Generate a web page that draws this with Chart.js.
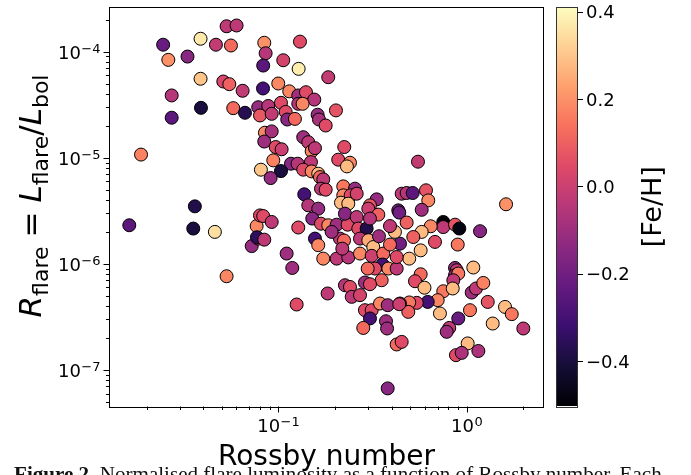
<!DOCTYPE html>
<html>
<head>
<meta charset="utf-8">
<script src="https://cdn.jsdelivr.net/npm/chart.js@4"></script>
<style>
  html, body { margin: 0; padding: 0; background: #fff; }
  canvas { display: block; }
</style>
</head>
<body>
<canvas id="c" width="691" height="475"></canvas>
<script>
// Rossby number, normalised flare luminosity and metallicity per star
const rossby = [
  0.0532, 0.0601, 0.0245, 0.0387, 0.0467, 0.0561, 0.0261, 0.0330, 0.0387, 0.0511,
  0.0550, 0.0647, 0.0272, 0.0389, 0.0577, 0.0666, 0.0783, 0.0272, 0.0187, 0.0809,
  0.0361, 0.0162, 0.0354, 0.0461, 0.0532, 0.0723, 0.0783, 0.0768, 0.0800, 0.0771,
  0.0843, 0.0857, 0.0832, 0.1063, 0.1304, 0.1283, 0.0830, 0.100, 0.1144, 0.1277,
  0.1403, 0.1553, 0.1277, 0.1347, 0.1034, 0.0885, 0.0800, 0.0923, 0.1095, 0.1116,
  0.1226, 0.1618, 0.1644, 0.1785, 0.2024, 0.1842, 0.0850, 0.0923, 0.0843, 0.0969,
  0.1042, 0.1357, 0.1443, 0.1504, 0.1566, 0.224, 0.2081, 0.2402, 0.2315, 0.0941,
  0.1168, 0.1267, 0.1491, 0.1034, 0.0911, 0.1357, 0.1504, 0.1630, 0.1665, 0.1733,
  0.1686, 0.1785, 0.1374, 0.1443, 0.1630, 0.2213, 0.2553, 0.2213, 0.2422, 0.2608,
  0.2152, 0.2353, 0.3328, 0.3067, 0.4518, 0.4335, 0.5514, 0.4802, 0.5169, 0.6081,
  0.6252, 1.617, 0.4387, 0.577, 0.4802, 0.751, 0.751, 0.867, 0.9135, 1.177,
  0.644, 0.577, 0.5208, 0.6786, 0.896, 0.4426, 0.5698, 0.4955, 0.867, 0.885,
  0.867, 0.902, 0.849, 1.084, 0.5698, 0.5316, 0.597, 0.751, 0.843, 0.7015,
  0.621, 0.543, 0.4955, 0.4426, 0.4898, 0.721, 1.063, 1.12, 1.225, 1.293,
  1.041, 0.902, 0.808, 0.783, 1.597, 1.734, 1.374, 1.997, 1.012, 0.877,
  0.941, 1.153, 0.0832, 0.0923, 0.0843, 0.1277, 0.1108, 0.1187, 0.1828, 0.1252,
  0.1515, 0.1686, 0.1842, 0.1566, 0.1630, 0.1733, 0.2042, 0.2353, 0.2042, 0.2335,
  0.2259, 0.2125, 0.2234, 0.2187, 0.2608, 0.3005, 0.3395, 0.2659, 0.2945, 0.3067,
  0.2715, 0.3005, 0.3193, 0.3423, 0.2715, 0.3132, 0.3607, 0.3917, 0.416, 0.3917,
  0.358, 0.326, 0.2983, 0.3837, 0.425, 0.425, 0.3538, 0.2259, 0.2402, 0.2453,
  0.2715, 0.2884, 0.3067, 0.2884, 0.3132, 0.3067, 0.2826, 0.3466, 0.3808, 0.4387,
  0.373, 0.378, 0.425, 0.4518, 0.3808, 0.192
];
const rflare = [
  1.73e-4, 1.76e-4, 1.16e-4, 1.32e-4, 1.16e-4, 1.14e-4, 8.35e-5, 8.97e-5, 5.54e-5, 5.22e-5,
  4.93e-5, 4.27e-5, 3.86e-5, 2.95e-5, 2.93e-5, 2.65e-5, 2.99e-5, 2.38e-5, 1.07e-5, 7.71e-6,
  3.48e-6, 2.31e-6, 2.15e-6, 2.00e-6, 7.64e-7, 1.47e-6, 1.73e-6, 2.27e-6, 2.86e-6, 1.78e-6,
  1.21e-4, 9.64e-5, 7.38e-5, 8.28e-5, 1.24e-4, 6.87e-5, 4.49e-5, 5.00e-5, 4.22e-5, 3.86e-5,
  4.14e-5, 3.53e-5, 3.22e-5, 3.22e-5, 3.29e-5, 3.07e-5, 2.50e-5, 2.59e-5, 2.70e-5, 2.29e-5,
  2.32e-5, 2.54e-5, 2.29e-5, 2.01e-5, 2.79e-5, 5.73e-5, 1.72e-5, 1.77e-5, 1.42e-5, 1.26e-5,
  1.20e-5, 1.56e-5, 1.40e-5, 1.15e-5, 1.23e-5, 1.26e-5, 9.58e-6, 8.97e-6, 8.28e-6, 9.44e-6,
  8.78e-6, 8.78e-6, 9.09e-6, 7.48e-6, 6.43e-6, 7.71e-6, 7.43e-6, 7.07e-6, 6.57e-6, 6.25e-6,
  5.11e-6, 5.00e-6, 4.52e-6, 3.56e-6, 3.31e-6, 5.37e-6, 5.11e-6, 4.42e-6, 4.42e-6, 4.58e-6,
  3.77e-6, 3.69e-6, 4.05e-6, 3.56e-6, 4.58e-6, 3.19e-6, 9.17e-6, 4.65e-6, 4.65e-6, 4.93e-6,
  3.96e-6, 3.64e-6, 3.04e-6, 3.23e-6, 2.45e-6, 2.48e-6, 2.22e-6, 2.34e-6, 2.15e-6, 2.03e-6,
  2.26e-6, 2.00e-6, 1.79e-6, 1.61e-6, 1.52e-6, 1.55e-6, 1.34e-6, 1.12e-6, 9.15e-7, 8.71e-7,
  7.81e-7, 8.11e-7, 7.01e-7, 9.23e-7, 7.98e-7, 6.86e-7, 5.96e-7, 5.52e-7, 5.86e-7, 4.55e-7,
  4.38e-7, 4.29e-7, 4.33e-7, 4.23e-7, 3.53e-7, 3.41e-7, 5.37e-7, 5.86e-7, 6.61e-7, 4.38e-7,
  3.66e-7, 3.06e-7, 2.49e-7, 2.29e-7, 3.93e-7, 3.36e-7, 2.74e-7, 2.46e-7, 1.78e-7, 1.38e-7,
  1.45e-7, 1.51e-7, 2.82e-6, 2.48e-6, 1.69e-6, 2.20e-6, 1.25e-6, 9.15e-7, 5.26e-7, 4.14e-7,
  2.67e-6, 2.39e-6, 2.31e-6, 1.73e-6, 1.50e-6, 1.12e-6, 1.12e-6, 1.15e-6, 2.34e-6, 2.34e-6,
  2.97e-6, 1.73e-6, 1.66e-6, 1.39e-6, 2.76e-6, 3.31e-6, 2.91e-6, 2.15e-6, 2.15e-6, 2.67e-6,
  1.73e-6, 1.67e-6, 1.44e-6, 1.82e-6, 1.25e-6, 1.19e-6, 1.25e-6, 1.52e-6, 2.00e-6, 2.27e-6,
  9.85e-7, 9.03e-7, 9.03e-7, 9.03e-7, 9.03e-7, 1.16e-6, 7.01e-7, 6.29e-7, 6.06e-7, 4.89e-7,
  5.07e-7, 6.67e-7, 6.43e-7, 3.66e-7, 3.66e-7, 3.06e-7, 2.49e-7, 4.23e-7, 4.08e-7, 4.17e-7,
  2.88e-7, 2.46e-7, 1.74e-7, 1.84e-7, 6.71e-8, 2.00e-6
];
const feh = [
  -0.03, -0.03, -0.22, 0.37, -0.02, 0.12, 0.20, -0.15, 0.30, 0.03,
  0.10, -0.02, -0.05, -0.40, 0.12, -0.37, -0.12, -0.25, 0.17, 0.30,
  -0.38, -0.25, -0.40, 0.35, 0.18, -0.12, 0.05, 0.18, 0.05, -0.35,
  0.20, -0.05, -0.25, 0.02, 0.05, 0.38, -0.30, 0.18, 0.18, -0.10,
  0.05, -0.05, -0.05, 0.18, 0.05, -0.05, 0.08, -0.02, 0.05, -0.15,
  0.12, -0.12, -0.08, 0.05, 0.07, -0.02, 0.18, -0.08, -0.10, 0.05,
  0.00, -0.10, -0.03, 0.18, -0.03, 0.05, 0.05, 0.18, 0.28, 0.17,
  -0.15, -0.05, -0.03, -0.40, -0.12, 0.05, 0.18, 0.28, 0.12, -0.03,
  -0.03, 0.05, -0.30, -0.05, -0.12, 0.15, -0.12, 0.18, 0.05, 0.02,
  0.28, 0.28, -0.12, 0.08, -0.03, -0.20, -0.02, -0.05, -0.25, 0.07,
  0.18, 0.20, -0.20, -0.10, 0.10, -0.50, -0.03, 0.07, -0.48, -0.15,
  0.18, 0.28, 0.10, 0.05, 0.15, -0.20, 0.28, 0.28, -0.12, -0.03,
  -0.12, 0.15, -0.03, 0.28, 0.12, 0.05, 0.28, 0.15, 0.28, 0.18,
  -0.30, 0.05, 0.15, -0.03, 0.10, 0.28, -0.10, -0.03, 0.17, 0.07,
  0.15, -0.22, -0.03, -0.10, 0.28, 0.15, 0.28, -0.03, 0.28, 0.05,
  -0.07, -0.07, 0.05, -0.03, -0.03, 0.05, -0.10, -0.10, -0.03, 0.05,
  -0.15, 0.05, 0.18, -0.30, 0.18, 0.18, -0.03, -0.05, -0.10, 0.05,
  -0.15, -0.03, 0.12, -0.03, -0.03, 0.00, 0.10, 0.05, -0.38, -0.05,
  -0.03, 0.25, 0.28, -0.10, 0.18, 0.00, 0.12, 0.12, 0.28, -0.03,
  -0.30, 0.05, 0.12, 0.18, -0.03, 0.05, 0.10, -0.05, 0.05, -0.03,
  0.02, -0.10, 0.05, 0.05, 0.05, -0.30, 0.12, 0.18, -0.10, 0.00,
  -0.10, -0.10, 0.12, 0.05, -0.15, -0.10
];

// axes and colour bar
const xRange = [0.0128, 2.54];
const yRange = [4.58e-8, 2.6e-4];
const xMajor = [0.1, 1];
const xMajorExp = ['\u22121', '0'];
const yMajor = [1e-4, 1e-5, 1e-6, 1e-7];
const yMajorExp = ['\u22124', '\u22125', '\u22126', '\u22127'];
const cbRange = [-0.503, 0.41];
const cbTicks = [0.4, 0.2, 0.0, -0.2, -0.4];
const cbTickLabels = ['0.4', '0.2', '0.0', '\u22120.2', '\u22120.4'];

const MAGMA = ['#000004', '#140e36', '#3b0f70', '#641a80', '#8c2981', '#b73779',
               '#de4968', '#f7705c', '#fe9f6d', '#fecf92', '#fcfdbf'];

function hexRgb(h) {
  return [parseInt(h.slice(1, 3), 16), parseInt(h.slice(3, 5), 16), parseInt(h.slice(5, 7), 16)];
}
function magma(v) {
  let t = (v - cbRange[0]) / (cbRange[1] - cbRange[0]);
  t = Math.max(0, Math.min(1, t));
  const s = t * 10, i = Math.min(9, Math.floor(s)), f = s - i;
  const a = hexRgb(MAGMA[i]), b = hexRgb(MAGMA[i + 1]);
  const c = a.map((ai, k) => Math.round(ai + (b[k] - ai) * f));
  return `rgb(${c[0]},${c[1]},${c[2]})`;
}

const points = rossby.map((r, i) => ({ x: r, y: rflare[i] }));
const colors = feh.map(magma);

const FONT = '"DejaVu Sans", sans-serif';

function drawPow(ctx, exp, x, base, align) {
  ctx.font = '18px ' + FONT;
  const w10 = ctx.measureText('10').width;
  ctx.font = '13px ' + FONT;
  const wSup = ctx.measureText(exp).width;
  const total = w10 + wSup;
  let x0 = align === 'right' ? x - total : x - total / 2;
  ctx.textAlign = 'left';
  ctx.textBaseline = 'alphabetic';
  ctx.font = '18px ' + FONT;
  ctx.fillText('10', x0, base);
  ctx.font = '13px ' + FONT;
  ctx.fillText(exp, x0 + w10 + 0.5, base - 6);
}

function minorTicks(lo, hi) {
  const out = [];
  for (let e = Math.floor(Math.log10(lo)); e <= Math.ceil(Math.log10(hi)); e++) {
    for (let m = 2; m <= 9; m++) {
      const v = m * Math.pow(10, e);
      if (v >= lo && v <= hi) out.push(v);
    }
  }
  return out;
}

const decoPlugin = {
  id: 'deco',
  afterDraw(chart) {
    const { ctx, chartArea: a, scales } = chart;
    const xs = scales.x, ys = scales.y, cb = scales.cb;
    ctx.save();
    ctx.fillStyle = '#000';
    ctx.strokeStyle = '#000';
    ctx.lineWidth = 1;

    // frame
    ctx.strokeRect(Math.round(a.left) - 0.5, Math.round(a.top) - 0.5,
                   Math.round(a.right - a.left) + 1, Math.round(a.bottom - a.top) + 1);

    // ticks
    ctx.beginPath();
    yMajor.forEach(v => {
      const y = Math.round(ys.getPixelForValue(v)) + 0.5;
      ctx.moveTo(a.left - 0.5, y); ctx.lineTo(a.left - 6.5, y);
    });
    minorTicks(yRange[0], yRange[1]).forEach(v => {
      const y = Math.round(ys.getPixelForValue(v)) + 0.5;
      ctx.moveTo(a.left - 0.5, y); ctx.lineTo(a.left - 4, y);
    });
    xMajor.forEach(v => {
      const x = Math.round(xs.getPixelForValue(v)) + 0.5;
      ctx.moveTo(x, a.bottom + 0.5); ctx.lineTo(x, a.bottom + 6.5);
    });
    minorTicks(xRange[0], xRange[1]).forEach(v => {
      const x = Math.round(xs.getPixelForValue(v)) + 0.5;
      ctx.moveTo(x, a.bottom + 0.5); ctx.lineTo(x, a.bottom + 4);
    });
    ctx.stroke();

    // tick labels
    yMajor.forEach((v, i) => drawPow(ctx, yMajorExp[i], a.left - 10, ys.getPixelForValue(v) + 7, 'right'));
    xMajor.forEach((v, i) => drawPow(ctx, xMajorExp[i], xs.getPixelForValue(v), a.bottom + 26, 'center'));

    // x title
    ctx.font = '28px ' + FONT;
    ctx.textAlign = 'center';
    ctx.fillText('Rossby number', (a.left + a.right) / 2, 465);

    // y title: R_flare = L_flare / L_bol
    const big = 31, small = 22;
    const parts = [
      { t: 'R', f: 'italic ' + big + 'px ' + FONT, dy: 0 },
      { t: 'flare', f: small + 'px ' + FONT, dy: 7 },
      { t: '=', f: big + 'px ' + FONT, dy: 0, pad: 9 },
      { t: 'L', f: 'italic ' + big + 'px ' + FONT, dy: 0 },
      { t: 'flare', f: small + 'px ' + FONT, dy: 7 },
      { t: '/', f: big + 'px ' + FONT, dy: 0 },
      { t: 'L', f: 'italic ' + big + 'px ' + FONT, dy: 0 },
      { t: 'bol', f: small + 'px ' + FONT, dy: 7 }
    ];
    let total = 0;
    parts.forEach(p => { ctx.font = p.f; p.w = ctx.measureText(p.t).width + 2 * (p.pad || 0); total += p.w; });
    ctx.save();
    ctx.translate(41, 196 + total / 2);
    ctx.rotate(-Math.PI / 2);
    ctx.textAlign = 'left';
    let cx = 0;
    parts.forEach(p => { ctx.font = p.f; ctx.fillText(p.t, cx + (p.pad || 0), p.dy); cx += p.w; });
    ctx.restore();

    // colour bar
    const cbL = 557, cbR = 577;
    const top = cb.getPixelForValue(cbRange[1]), bot = cb.getPixelForValue(cbRange[0]);
    const g = ctx.createLinearGradient(0, bot, 0, top);
    MAGMA.forEach((c, i) => g.addColorStop(i / 10, c));
    ctx.fillStyle = g;
    ctx.fillRect(cbL, top, cbR - cbL, bot - top);
    ctx.strokeStyle = '#333';
    ctx.strokeRect(cbL - 0.5, Math.round(top) - 0.5, cbR - cbL + 1, Math.round(bot - top) + 1);
    ctx.strokeStyle = '#000';
    ctx.fillStyle = '#000';
    ctx.beginPath();
    cbTicks.forEach(v => {
      const y = Math.round(cb.getPixelForValue(v)) + 0.5;
      ctx.moveTo(cbR + 0.5, y); ctx.lineTo(cbR + 6, y);
    });
    ctx.stroke();
    ctx.font = '18px ' + FONT;
    ctx.textAlign = 'left';
    cbTickLabels.forEach((s, i) => ctx.fillText(s, 586, cb.getPixelForValue(cbTicks[i]) + 6.5));

    ctx.save();
    ctx.font = '27px ' + FONT;
    ctx.translate(661, (top + bot) / 2);
    ctx.rotate(-Math.PI / 2);
    ctx.textAlign = 'center';
    ctx.fillText('[Fe/H]', 0, 0);
    ctx.restore();

    // caption (cut by the image edge)
    const bold = 'Figure 2.', rest = ' Normalised flare luminosity as a function of Rossby number. Each';
    ctx.font = 'bold 100px "Liberation Serif", serif';
    const wb = ctx.measureText(bold).width;
    ctx.font = '100px "Liberation Serif", serif';
    const wr = ctx.measureText(rest).width;
    const size = 100 * 648 / (wb + wr);
    ctx.textAlign = 'left';
    ctx.fillStyle = '#111';
    ctx.font = 'bold ' + size + 'px "Liberation Serif", serif';
    ctx.fillText(bold, 14, 481);
    ctx.font = size + 'px "Liberation Serif", serif';
    ctx.fillText(rest, 14 + wb * size / 100, 481);

    ctx.restore();
  }
};

new Chart(document.getElementById('c'), {
  type: 'scatter',
  data: {
    datasets: [{
      data: points,
      pointRadius: 6.5,
      pointHoverRadius: 6.5,
      pointBackgroundColor: colors,
      pointBorderColor: '#000',
      pointBorderWidth: 1
    }]
  },
  options: {
    responsive: false,
    animation: false,
    events: [],
    layout: { padding: { left: 110, top: 7, right: 148, bottom: 69 } },
    plugins: { legend: { display: false }, tooltip: { enabled: false } },
    scales: {
      x: { type: 'logarithmic', min: xRange[0], max: xRange[1], display: false },
      y: { type: 'logarithmic', min: yRange[0], max: yRange[1], display: false },
      cb: { type: 'linear', axis: 'y', position: 'right', min: cbRange[0], max: cbRange[1], display: false }
    }
  },
  plugins: [decoPlugin]
});
</script>
</body>
</html>
